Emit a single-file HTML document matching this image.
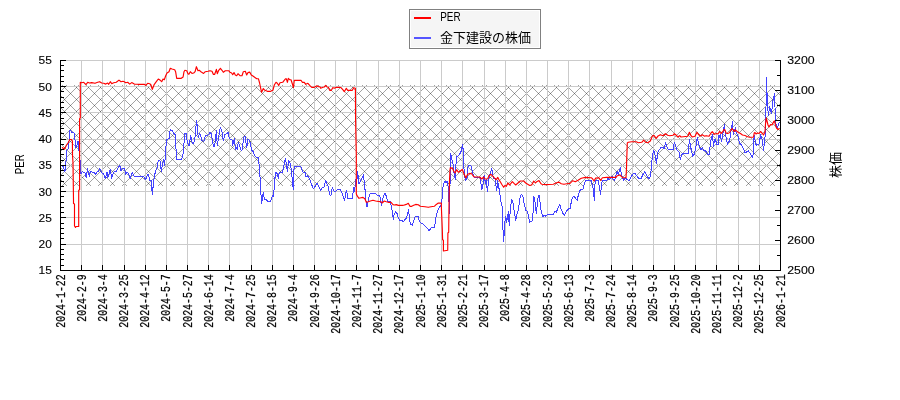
<!DOCTYPE html>
<html lang="ja"><head><meta charset="utf-8"><title>PER / 金下建設の株価</title>
<style>html,body{margin:0;padding:0;background:#fff;}body{width:900px;height:400px;overflow:hidden;font-family:"Liberation Sans",sans-serif;}svg{display:block;will-change:transform;}</style>
</head><body>
<svg width="900" height="400" viewBox="0 0 900 400">
<defs>
<pattern id="hatch" x="4" y="3" width="12" height="12" patternUnits="userSpaceOnUse"><g fill="#000" fill-opacity="0.36" shape-rendering="crispEdges"><path d="M0,0h1v1h-1zM1,1h1v1h-1zM2,2h1v1h-1zM3,3h1v1h-1zM4,4h1v1h-1zM5,5h1v1h-1zM6,6h1v1h-1zM7,7h1v1h-1zM8,8h1v1h-1zM9,9h1v1h-1zM10,10h1v1h-1zM11,11h1v1h-1z"/><path d="M0,0h1v1h-1zM11,1h1v1h-1zM10,2h1v1h-1zM9,3h1v1h-1zM8,4h1v1h-1zM7,5h1v1h-1zM6,6h1v1h-1zM5,7h1v1h-1zM4,8h1v1h-1zM3,9h1v1h-1zM2,10h1v1h-1zM1,11h1v1h-1z"/></g></pattern>
<clipPath id="plot"><rect x="61" y="55" width="719.5" height="215"/></clipPath>
</defs>
<rect width="900" height="400" fill="#fff"/>
<rect x="61" y="85" width="719" height="101" fill="url(#hatch)"/>
<path d="M81.5,60V270M102.5,60V270M124.5,60V270M145.5,60V270M166.5,60V270M187.5,60V270M208.5,60V270M229.5,60V270M251.5,60V270M272.5,60V270M293.5,60V270M314.5,60V270M335.5,60V270M356.5,60V270M378.5,60V270M399.5,60V270M420.5,60V270M441.5,60V270M462.5,60V270M484.5,60V270M505.5,60V270M526.5,60V270M547.5,60V270M568.5,60V270M589.5,60V270M611.5,60V270M632.5,60V270M653.5,60V270M674.5,60V270M695.5,60V270M716.5,60V270M738.5,60V270M759.5,60V270M61,60.5H780M61,86.5H780M61,112.5H780M61,139.5H780M61,165.5H780M61,191.5H780M61,217.5H780M61,244.5H780" stroke="#cbcbcb" stroke-width="1" fill="none" shape-rendering="crispEdges"/>
<g clip-path="url(#plot)" fill="none" stroke-linejoin="round">
<polyline points="62.3,165.8 63,166.3 65,171.7 65.7,161.7 66.2,160 66.8,150.5 68.2,148.5 68.6,144 69.2,140 69.5,137 69.5,130.2 71,131.2 72.5,133 74,132.5 74.5,139.5 75.2,140 75.5,147.5 77,145 77.5,141.5 78.5,141.8 78.5,147.5 79.5,155 80.3,162.3 81,173.7 82.3,171.7 83.7,172.3 85,173 86.3,177.7 87.4,168.3 88.3,171.7 89.4,176.3 90.3,171.7 93.7,172.3 95.7,174.3 97,171.7 98.3,171.7 99.7,168.3 101,171 102.3,173.7 103.7,173.7 105.4,178.7 107,172.3 107.7,177.7 109,173.7 110.3,169.4 111.7,178.3 113,174.3 114.3,171.7 116.3,171.3 117.7,168.3 119.7,165 121,171 122.3,168.3 124.3,168.3 125.7,174.3 127,171.7 128.3,173.7 130.3,178.3 132.1,172.3 134.3,176.3 143.7,176.3 145.7,179.7 147,175.7 148.3,174.3 149.9,180.3 151.3,180.3 152.3,195 153.7,180.3 154.7,175 155.7,170.3 157,168.3 158.3,160.3 160.3,161 161.3,171.7 162.7,163 163.7,159.7 164.6,165.7 165.4,155 165.7,148 167,139.3 169,138.7 170.3,129.3 172.3,130.7 173.7,133.3 174.7,133.3 175.6,136.7 176,148.7 176.7,159.3 181.7,159.3 183.3,152.7 184,143.3 184.7,133.7 186.3,133.7 187.3,142 188.4,145.3 189.3,146 190.7,135.3 191.6,140.7 192.9,144 194,142 195.3,136 196.4,120 197.3,126 198.3,138 199.3,133.3 200.7,135.3 202,140.7 204,141.3 205.3,136 208,135.3 209.3,133.3 210.7,132 212,138 213.3,146 214.7,146 215.6,136.7 216.4,130.7 217.3,146 218.7,136.7 220.4,127.3 222,132 223.3,140.7 224.7,134.7 226.7,133.3 228.3,132.7 229.3,138.7 230.7,139.3 232,140 232.7,145.3 234.3,138.7 235.6,150 236.7,147.3 237.3,150 238.3,142 239.3,144.7 240.7,150 242,150 242.7,144.7 244,136.7 245.3,136.7 246.7,148 248,138.7 249.6,140.7 250.7,145.3 251.6,150 253.3,152 254.7,156 256.7,157.3 258.4,157.3 259.1,164.7 260,176.7 260.4,184.7 260.1,180 260.5,194.5 261.5,195.2 261.5,203.7 262.2,195.5 262.5,200.3 263.2,192.2 263.9,196.2 264.5,199.6 266.2,199.6 267.6,201.3 270.6,201.5 271.6,197.6 272.6,195.9 273.6,196.2 273.6,190.1 274.5,189.8 274.7,180 275.1,176.7 276,172 277.3,174 278.3,178.7 279.3,172.7 282.7,172 284,165.3 285.5,158.1 286.7,167.1 287.5,171.1 288.5,160.6 289.6,162.2 290.7,165.4 291.7,174.4 293.3,189.3 294.1,166.5 294.3,166.7 301,166.7 302.3,171 303.7,173 305,172.3 306.1,177 307.9,175.7 309.7,179 311,183 312.3,186.3 313.7,189 315.4,185.7 317,183 319,187 320.7,190.3 322.3,187.7 323.9,187 325.7,180.3 327,183.7 328.3,186.3 329.7,195 331.3,195 332.3,187 333.7,191 335,192.3 337,189.7 340.3,189.7 341.7,191.7 343,196.3 344.6,201 345.7,193.7 346.6,190.3 347.7,198.3 352.3,198.3 353.7,187.7 354.6,191.7 355.7,179.7 356.6,183.7 357.7,171.7 359,183.7 361,179.7 363.4,175 364.6,185 365.4,193.7 366.3,204.3 367,207 368.3,200.3 369.3,195.7 370.3,193.7 375.7,193.7 377,195 379,195 380.3,197.7 381.3,205.7 383,197.7 385,193 386.3,196.3 387.4,201 390.3,201.7 392.3,211.3 393.3,219.3 394.3,214 395.4,212 397,213.3 398.1,217.3 399.7,220.4 401.7,220.4 403.7,222 405,219.3 406.6,218 407.7,213.3 408.6,210 409.7,220.7 411,224.7 412.3,225.3 413.7,220.7 415,216.7 418.1,216.7 419.4,221.3 421,223.3 423,224 425,226 427,228 429.3,230.7 431,228 434.1,227.3 435.4,222 436.3,215.3 437.7,210.7 439.9,206.7 441,205.3 442.1,198 443,187.3 443.9,183.3 445,181.3 446.1,182.7 447,180.7 447.9,184.7 448.7,196.7 449.8,214 449.9,196.7 450.3,153.7 451.4,156.3 452.3,161.7 453.3,165 454.1,173.7 455.4,179.7 456.3,156.3 458.1,156.1 459.9,153.7 461.3,151 462.6,144.3 463.4,152.3 463.9,168.3 465,177.7 465.7,180.3 467,178.3 467.9,167 468.7,165.7 471,165.7 471.9,169.7 473,174.3 474.1,177 479.7,177.4 480.3,178 481.7,189.3 482.6,188.7 483.7,176.7 484.3,175.3 485.3,183.3 486.3,179.3 487.4,192 488.3,183.3 489,178 489.7,175 490.6,172.3 491.7,168.3 492.6,173.7 493.7,179 495,178 495.9,185.3 496.7,190.7 497.7,180.7 498.6,186 499.7,192.7 500.7,200.7 502.1,206 502.7,223.7 503.7,241.7 504.7,223.7 505.7,216.3 506.6,222.3 507.7,217 508.3,211.7 509.3,225.7 510.3,209 511.7,199.3 512.7,200.7 513.7,208.7 514.6,213 515.7,221 517,214.3 518.3,210.3 519.7,199.3 521.3,194 523,196.7 524.3,204.7 525.7,208.7 525.7,210.3 527.7,211.7 528.7,217.7 529.7,222.3 532.3,221 533.3,209 533.7,196.7 534.6,198.7 536.3,213.7 537,207.3 538.3,195.3 539.4,196 540.3,204.7 541.3,211.7 541.6,213 542.9,217 544,215 545.3,216.3 547.3,214.6 553.3,214.3 554.9,211.7 556.3,212.3 558,208.3 559.7,204.3 561.3,209.7 562.7,213 564.3,215.7 566,211.7 567.7,209.7 569.1,208.3 570.4,209 571.3,201 572.7,197 574.4,196.3 575.7,199 577.1,200.3 578.7,193.7 579.7,190.3 581.3,189.7 582.9,189 584.7,182.3 586,180.3 591.3,180.3 592.3,185 593.3,189.7 594.3,200.3 595.1,181.7 596,180.3 598.4,180.3 599.6,189 600.7,194.3 601.6,182.3 602.7,180.7 606.7,180.3 608,178.3 609.3,179.7 610.7,178.3 612,176.3 613.1,179 614.7,180.3 616,175 617.3,171 618.4,175 619.3,171 620.4,167.7 621.3,174.3 622.7,177.7 623.7,180.3 625.3,177.7 627.3,179.7 629.3,180.3 631.3,176.3 633.3,173.7 635.3,173.7 637.1,176.3 638.7,178.3 641.3,178.3 642.7,175 644.7,171.7 646,174.3 647.7,177.7 649.1,178.3 650.4,176.3 651.3,169 651.7,163 652.6,155 653.7,150.3 654.7,153.7 655.7,159 656.6,163.7 657.4,153.7 658.7,150.3 661,147.7 663.3,147 664.3,149 665.4,142.3 667,147 668.3,149.7 673,149.9 674.3,142.3 675.7,146.3 677,150.3 679,152.3 680.3,159.7 681.7,155 683,153.7 688.1,153.7 689.4,139.7 690.7,147 692.1,153.7 692.7,156.3 694.3,154.3 695.7,148.3 697.4,137 698.3,143 699.7,147.7 701,150.3 702.3,147.7 703.7,150.3 705.7,151 707.7,154.3 709.4,154.7 710.3,143 711.3,139 712.6,134.3 713.4,146.3 714.7,139 716,141.5 717,144.5 718.5,144 719,135 719.8,138 720.5,135 721.5,142 722.5,136 723.5,130 724.5,125 725,131 725.5,134.5 726.5,139 727.5,144.5 728.5,142 729.5,141 730.5,134.5 731.5,128 732.5,122 733,129 733.5,135 734.5,130 735.5,127.5 736.2,133 737.5,135 738.5,136.5 739,141 739.5,143.5 741.5,144.5 742.5,147 743.5,148.5 744.5,152 746,152.5 747,151.5 748.5,151 749.5,152.5 750.5,153.5 751.2,156 752.2,157.5 753,155 753.5,146 754.2,135 755,140 755.8,144 756.5,146 757.5,144.5 759,144.5 759.8,140 760.5,135 761.2,136.5 762,139 762.8,143.5 763.5,150.5 764.2,145 764.8,139 765.5,132.5 765.6,112 766,107 766.5,78 767.5,106 768.5,116 769.5,107 770.5,110 771.5,114 772.8,101 774.5,94 775.5,120 776.2,125 777,128 778,126 779.5,122" stroke="#4242ff" stroke-width="1" shape-rendering="crispEdges"/>
<polyline points="62,147.4 62.2,147.5 64.5,149.2 66.5,145 68,143 69.5,140.2 70,139.5 71.5,139.5 72.4,141 72.5,155 73,163 73.5,200 73.5,203.5 74.5,204 74.5,226 75.5,227.5 76,226.5 78.7,226.5 78.7,190.2 79.6,189.7 79.6,118.6 80.3,118 80.3,82.3 81.7,82.7 83.7,82.3 85.9,84.6 87.7,82.3 89.4,83 91.7,82.6 95,83.3 97.7,82.3 99.7,81.7 101.7,83 103.7,83.3 105.7,84.1 107.7,83 108.7,84.3 110.3,81.7 111.7,83.7 113.7,82.7 116.3,82.3 119,80.1 121,81.7 123,81.3 124.3,81.7 125.7,82.7 127.7,82.3 129.7,84.1 131.7,82.6 134.3,84.1 137.7,84.3 144.3,84.3 145.7,85.4 147.7,83.3 149.7,83.7 151,85 152.3,89.4 154.3,84.3 156.3,81.7 158.3,79 160.3,80.3 161.7,81.7 163,79 164.3,79.7 165.7,75.7 167,73 169,71.7 170.3,68.3 172,69 174.7,69.7 175.6,71.7 176.7,78.3 181.3,78.3 183.1,77 184,71.7 184.9,70.3 186.7,70.7 188,73.7 188.9,74.3 190.3,71.7 192,73.4 193.7,73 195.1,71.7 196.4,66.7 198,70.7 199.3,70.3 201.3,72.1 203.6,73.4 205.3,71.7 208,71.3 210,70.7 212,71.3 213.3,74.3 214.7,74.3 216.4,69.4 217.3,73.7 218.7,70.3 220.4,68.3 222,70.3 223.3,72.3 225.3,70.7 228.7,70.7 230,72.3 231.6,73 232.7,74.7 234,72.6 235.3,75 236.7,75.7 238,73.7 240,75.7 242,75.7 243.3,71.7 245.3,71.3 246.7,75 248,72.6 249.7,72.1 251.3,75 253.3,76.3 255.3,77.7 256.7,78.7 258.4,78.7 259.6,83 260.7,88.3 261.6,92.3 263.3,88.6 264.9,90.3 267.3,91.3 270.7,91.3 272.9,90.3 274.3,85 276,82.3 277.3,83.3 278.7,85.4 280,82.7 282.7,82.3 284,80.6 285.7,78.7 286.3,78.7 287.4,82.3 288.3,78.3 289.7,79.7 291,79.7 292.3,83.7 293.4,87.7 294.3,80.3 301,80.3 302.3,82.3 304.3,82.3 305.7,84.3 307.9,83.3 309.7,85.4 311.7,87.3 314.3,87.3 317,85.7 318.3,86.7 319.9,86.7 320.7,88.3 323,87.3 324.3,87 325.7,85.4 327,87 328.3,87.3 329.7,90.3 331.4,90.3 332.7,87.7 335,88.1 336.3,87.3 339.7,87.3 341,87.7 343,89.9 344.3,91.7 346.3,88.3 347.7,90.3 349,90.3 352.3,90.3 353.7,87.7 355.4,88.3 355.6,120 356.3,155 356.3,193.7 357,195.7 359,198.3 361,197.7 363,197.4 365,199 366.3,202.3 368.3,201.7 370.3,201 373,200.3 375.7,201 378.3,201.4 381,201.7 382.1,203 384.3,201 386.3,201.7 388.3,202.3 391,202.3 393,204.6 394.3,205 396.3,204.6 398.3,205.4 402.3,205.4 403.7,205.3 406.3,204.4 408.3,203.3 409.9,206.3 411.7,206.3 413.7,205.3 415.7,204.4 418.3,204.7 420.3,206.3 425,206.7 428.3,207.3 431,206.7 434.3,206.3 436.3,204.4 438.3,203.1 441.3,203.1 441.3,205 441.7,215 442.3,229 442.6,239.7 443.4,240.3 443.4,251 447.7,250.3 447.9,233 448.7,232.3 449,205 449.4,183 450,170 450.3,167.7 452.3,168.1 453.7,171 455,173 456.7,169.7 458.3,172.3 460.3,171 462.3,169.4 463.7,173 465.7,177.7 467.7,174.3 469.7,173.4 471.7,173.7 473,175.7 474.3,177 479.7,177 481.7,179 483.7,177 485,179 487.7,178.7 489,175.7 491,174.3 493,176.3 494.3,177.9 496.3,179.7 497.7,177.4 499,179.7 500.3,181.7 501.7,184.3 503.7,187.3 505,185.4 506.3,186.3 507.9,183 509.7,185 512.3,181.7 514.3,183.7 515.7,185 517.7,183.3 520.3,181 523.7,181 525.7,183 529.7,185.4 531.7,185 533.7,181 535.4,183 536.7,181.7 539,180.6 541,183.7 542,184.3 545.3,184.6 553.3,184.3 556,183 558.7,182.1 561.3,183.7 564,184.3 566.7,183.7 570,183.4 572.7,180.7 575.3,181.7 578,180.3 581.3,178.3 585.3,177.4 591.3,177.7 592.7,179 594,181 595.7,178.1 598.7,177.7 600.7,180.3 602.4,177.7 606.7,177.4 616,177.4 617.3,175.7 620,175 621.3,176.3 622.7,177.7 626,177.7 626.5,168.1 626.7,160.3 627.3,143 628.3,142.3 631.7,141.7 636.3,141.7 638.3,142.7 641.7,142.3 643.7,140.1 645.7,142.3 647.7,142.7 650.3,141 652.3,136.3 653.9,135.3 656.3,138.3 657.7,136.3 660.3,134.7 663,135.7 665.4,133.7 667.7,135.3 669.7,135.7 673,135.3 674.3,133.7 675.7,134.7 677.7,137 679.7,135.7 681,137 687.7,136.3 689.4,132.3 691,135.7 692.3,137 695,136.3 697,132.3 698.3,134.3 700.3,136.1 702.3,134.7 704.3,136.1 706.3,135.7 709,136.3 711,133 712.3,131.7 714.3,134.3 716.5,133.5 718,134 719.5,131.5 721,133.5 722.5,132 724,129.5 725,130 726,133 727.5,133.5 729,133 730.5,131 732,128.5 733.5,130.5 734.5,131.5 735.5,129.8 736.5,131 738.5,132.5 740.5,133.5 742.5,135 745,135.5 747,136.5 749.5,137.2 753.5,137.2 754.2,133 755,132.5 756,134 757.5,133 759,133.5 760.5,131.5 762,133 763.5,135 764.5,133 765,132 765.5,124 766.2,118 767,121 768,125 769,127 770.5,124.5 772,125 773.5,122 774.5,121 775.5,125 776.5,128 778,129.5 779.5,128.5" stroke="#ff0000" stroke-width="1.15" shape-rendering="auto"/>
</g>
<path d="M60.5,60V271M60,270.5H781M780.5,60V271M61,265.5h3M61,259.5h3M61,254.5h3M61,249.5h3M61,244.5h5M61,238.5h3M61,233.5h3M61,228.5h3M61,223.5h3M61,217.5h5M61,212.5h3M61,207.5h3M61,202.5h3M61,196.5h3M61,191.5h5M61,186.5h3M61,181.5h3M61,175.5h3M61,170.5h3M61,165.5h5M61,160.5h3M61,154.5h3M61,149.5h3M61,144.5h3M61,139.5h5M61,133.5h3M61,128.5h3M61,123.5h3M61,118.5h3M61,112.5h5M61,107.5h3M61,102.5h3M61,97.5h3M61,91.5h3M61,86.5h5M61,81.5h3M61,76.5h3M61,70.5h3M61,65.5h3M61,60.5h5M780,255.5h-3M780,240.5h-5M780,225.5h-3M780,210.5h-5M780,195.5h-3M780,180.5h-5M780,165.5h-3M780,150.5h-5M780,135.5h-3M780,120.5h-5M780,105.5h-3M780,90.5h-5M780,75.5h-3M780,60.5h-5M81.5,270v-5M102.5,270v-5M124.5,270v-5M145.5,270v-5M166.5,270v-5M187.5,270v-5M208.5,270v-5M229.5,270v-5M251.5,270v-5M272.5,270v-5M293.5,270v-5M314.5,270v-5M335.5,270v-5M356.5,270v-5M378.5,270v-5M399.5,270v-5M420.5,270v-5M441.5,270v-5M462.5,270v-5M484.5,270v-5M505.5,270v-5M526.5,270v-5M547.5,270v-5M568.5,270v-5M589.5,270v-5M611.5,270v-5M632.5,270v-5M653.5,270v-5M674.5,270v-5M695.5,270v-5M716.5,270v-5M738.5,270v-5M759.5,270v-5" stroke="#000" stroke-width="1" fill="none" shape-rendering="crispEdges"/>
<g font-family="'Liberation Sans', sans-serif" font-size="10.6" fill="#000" stroke="#000" stroke-width="0.1">
<text x="51.8" y="274.25" text-anchor="end" textLength="13.3" lengthAdjust="spacingAndGlyphs">15</text>
<text x="51.8" y="248" text-anchor="end" textLength="13.3" lengthAdjust="spacingAndGlyphs">20</text>
<text x="51.8" y="221.75" text-anchor="end" textLength="13.3" lengthAdjust="spacingAndGlyphs">25</text>
<text x="51.8" y="195.5" text-anchor="end" textLength="13.3" lengthAdjust="spacingAndGlyphs">30</text>
<text x="51.8" y="169.25" text-anchor="end" textLength="13.3" lengthAdjust="spacingAndGlyphs">35</text>
<text x="51.8" y="143" text-anchor="end" textLength="13.3" lengthAdjust="spacingAndGlyphs">40</text>
<text x="51.8" y="116.75" text-anchor="end" textLength="13.3" lengthAdjust="spacingAndGlyphs">45</text>
<text x="51.8" y="90.5" text-anchor="end" textLength="13.3" lengthAdjust="spacingAndGlyphs">50</text>
<text x="51.8" y="64.25" text-anchor="end" textLength="13.3" lengthAdjust="spacingAndGlyphs">55</text>
<text x="787.2" y="274.25" textLength="27.4" lengthAdjust="spacingAndGlyphs">2500</text>
<text x="787.2" y="244.25" textLength="27.4" lengthAdjust="spacingAndGlyphs">2600</text>
<text x="787.2" y="214.25" textLength="27.4" lengthAdjust="spacingAndGlyphs">2700</text>
<text x="787.2" y="184.25" textLength="27.4" lengthAdjust="spacingAndGlyphs">2800</text>
<text x="787.2" y="154.25" textLength="27.4" lengthAdjust="spacingAndGlyphs">2900</text>
<text x="787.2" y="124.25" textLength="27.4" lengthAdjust="spacingAndGlyphs">3000</text>
<text x="787.2" y="94.25" textLength="27.4" lengthAdjust="spacingAndGlyphs">3100</text>
<text x="787.2" y="64.25" textLength="27.4" lengthAdjust="spacingAndGlyphs">3200</text>
</g>
<g font-family="'Liberation Mono', monospace" font-size="12" fill="#000" stroke="#000" stroke-width="0.25">
<text transform="translate(64.5 274.3) rotate(-90)" text-anchor="end" textLength="53.4" lengthAdjust="spacingAndGlyphs">2024-1-22</text>
<text transform="translate(85.68 274.3) rotate(-90)" text-anchor="end" textLength="47.4" lengthAdjust="spacingAndGlyphs">2024-2-9</text>
<text transform="translate(106.85 274.3) rotate(-90)" text-anchor="end" textLength="47.4" lengthAdjust="spacingAndGlyphs">2024-3-4</text>
<text transform="translate(128.03 274.3) rotate(-90)" text-anchor="end" textLength="53.4" lengthAdjust="spacingAndGlyphs">2024-3-25</text>
<text transform="translate(149.21 274.3) rotate(-90)" text-anchor="end" textLength="53.4" lengthAdjust="spacingAndGlyphs">2024-4-12</text>
<text transform="translate(170.38 274.3) rotate(-90)" text-anchor="end" textLength="47.4" lengthAdjust="spacingAndGlyphs">2024-5-7</text>
<text transform="translate(191.56 274.3) rotate(-90)" text-anchor="end" textLength="53.4" lengthAdjust="spacingAndGlyphs">2024-5-27</text>
<text transform="translate(212.74 274.3) rotate(-90)" text-anchor="end" textLength="53.4" lengthAdjust="spacingAndGlyphs">2024-6-14</text>
<text transform="translate(233.91 274.3) rotate(-90)" text-anchor="end" textLength="47.4" lengthAdjust="spacingAndGlyphs">2024-7-4</text>
<text transform="translate(255.09 274.3) rotate(-90)" text-anchor="end" textLength="53.4" lengthAdjust="spacingAndGlyphs">2024-7-25</text>
<text transform="translate(276.26 274.3) rotate(-90)" text-anchor="end" textLength="53.4" lengthAdjust="spacingAndGlyphs">2024-8-15</text>
<text transform="translate(297.44 274.3) rotate(-90)" text-anchor="end" textLength="47.4" lengthAdjust="spacingAndGlyphs">2024-9-4</text>
<text transform="translate(318.62 274.3) rotate(-90)" text-anchor="end" textLength="53.4" lengthAdjust="spacingAndGlyphs">2024-9-26</text>
<text transform="translate(339.79 274.3) rotate(-90)" text-anchor="end" textLength="59.4" lengthAdjust="spacingAndGlyphs">2024-10-17</text>
<text transform="translate(360.97 274.3) rotate(-90)" text-anchor="end" textLength="53.4" lengthAdjust="spacingAndGlyphs">2024-11-7</text>
<text transform="translate(382.15 274.3) rotate(-90)" text-anchor="end" textLength="59.4" lengthAdjust="spacingAndGlyphs">2024-11-27</text>
<text transform="translate(403.32 274.3) rotate(-90)" text-anchor="end" textLength="59.4" lengthAdjust="spacingAndGlyphs">2024-12-17</text>
<text transform="translate(424.5 274.3) rotate(-90)" text-anchor="end" textLength="53.4" lengthAdjust="spacingAndGlyphs">2025-1-10</text>
<text transform="translate(445.68 274.3) rotate(-90)" text-anchor="end" textLength="53.4" lengthAdjust="spacingAndGlyphs">2025-1-31</text>
<text transform="translate(466.85 274.3) rotate(-90)" text-anchor="end" textLength="53.4" lengthAdjust="spacingAndGlyphs">2025-2-21</text>
<text transform="translate(488.03 274.3) rotate(-90)" text-anchor="end" textLength="53.4" lengthAdjust="spacingAndGlyphs">2025-3-17</text>
<text transform="translate(509.21 274.3) rotate(-90)" text-anchor="end" textLength="47.4" lengthAdjust="spacingAndGlyphs">2025-4-8</text>
<text transform="translate(530.38 274.3) rotate(-90)" text-anchor="end" textLength="53.4" lengthAdjust="spacingAndGlyphs">2025-4-28</text>
<text transform="translate(551.56 274.3) rotate(-90)" text-anchor="end" textLength="53.4" lengthAdjust="spacingAndGlyphs">2025-5-23</text>
<text transform="translate(572.74 274.3) rotate(-90)" text-anchor="end" textLength="53.4" lengthAdjust="spacingAndGlyphs">2025-6-13</text>
<text transform="translate(593.91 274.3) rotate(-90)" text-anchor="end" textLength="47.4" lengthAdjust="spacingAndGlyphs">2025-7-3</text>
<text transform="translate(615.09 274.3) rotate(-90)" text-anchor="end" textLength="53.4" lengthAdjust="spacingAndGlyphs">2025-7-24</text>
<text transform="translate(636.26 274.3) rotate(-90)" text-anchor="end" textLength="53.4" lengthAdjust="spacingAndGlyphs">2025-8-14</text>
<text transform="translate(657.44 274.3) rotate(-90)" text-anchor="end" textLength="47.4" lengthAdjust="spacingAndGlyphs">2025-9-3</text>
<text transform="translate(678.62 274.3) rotate(-90)" text-anchor="end" textLength="53.4" lengthAdjust="spacingAndGlyphs">2025-9-25</text>
<text transform="translate(699.79 274.3) rotate(-90)" text-anchor="end" textLength="59.4" lengthAdjust="spacingAndGlyphs">2025-10-20</text>
<text transform="translate(720.97 274.3) rotate(-90)" text-anchor="end" textLength="59.4" lengthAdjust="spacingAndGlyphs">2025-11-11</text>
<text transform="translate(742.15 274.3) rotate(-90)" text-anchor="end" textLength="53.4" lengthAdjust="spacingAndGlyphs">2025-12-2</text>
<text transform="translate(763.32 274.3) rotate(-90)" text-anchor="end" textLength="59.4" lengthAdjust="spacingAndGlyphs">2025-12-25</text>
<text transform="translate(784.5 274.3) rotate(-90)" text-anchor="end" textLength="53.4" lengthAdjust="spacingAndGlyphs">2026-1-21</text>
</g>
<text transform="translate(24 164.3) rotate(-90)" text-anchor="middle" font-family="'Liberation Sans', sans-serif" font-size="12.6" textLength="20" lengthAdjust="spacingAndGlyphs">PER</text>
<text transform="translate(840.3 178) rotate(-90)" font-family="'Liberation Sans', 'Noto Sans CJK JP', sans-serif" font-size="13" fill="#000">株価</text>
<rect x="409.5" y="9.5" width="131" height="39" fill="#fff" stroke="#808080" stroke-width="1" shape-rendering="crispEdges"/>
<rect x="411" y="11" width="128" height="36" fill="#f5f5f5" shape-rendering="crispEdges"/>
<path d="M414,18H431" stroke="#ff0000" stroke-width="2" shape-rendering="crispEdges"/>
<path d="M414,38H431" stroke="#5555ff" stroke-width="2"/>
<text x="440.2" y="20.8" font-family="'Liberation Sans', sans-serif" font-size="12.6" textLength="20.4" lengthAdjust="spacingAndGlyphs">PER</text>
<text x="440" y="42.3" font-family="'Liberation Sans', 'Noto Sans CJK JP', sans-serif" font-size="13" fill="#000">金下建設の株価</text>
</svg>
</body></html>
